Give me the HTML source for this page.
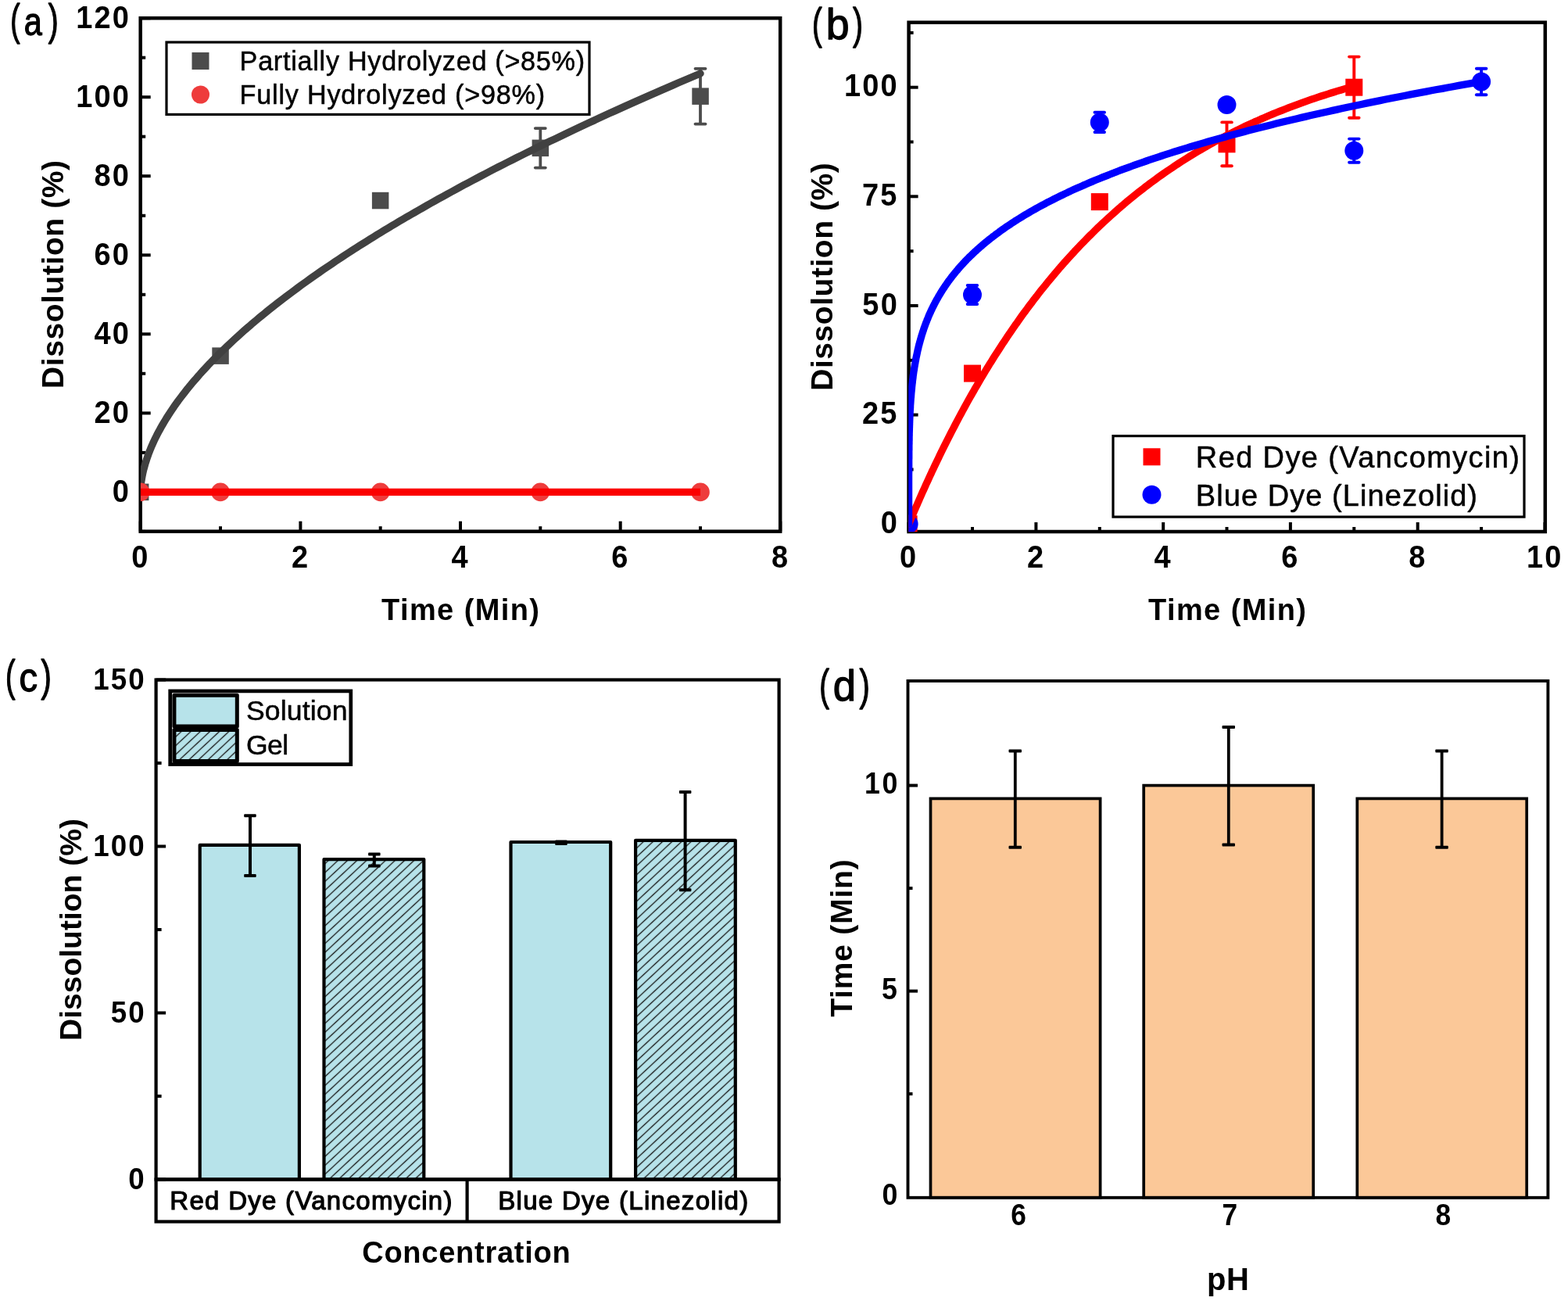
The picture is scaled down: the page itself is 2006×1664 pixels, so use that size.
<!DOCTYPE html>
<html lang="en">
<head>
<meta charset="utf-8">
<title>Dissolution profiles</title>
<style>
html,body{margin:0;padding:0;background:#ffffff;}
body{width:2006px;height:1664px;font-family:'Liberation Sans', Arial, Helvetica, sans-serif;}
svg{display:block;}
text{font-family:'Liberation Sans', Arial, Helvetica, sans-serif;}
</style>
</head>
<body>
<svg width="2006" height="1664" viewBox="0 0 2006 1664" font-family="'Liberation Sans', Arial, Helvetica, sans-serif" role="img" aria-label="Dissolution profiles: four-panel figure">
<rect width="2006" height="1664" fill="#ffffff"/>
<defs><pattern id="hatch" width="8.3" height="8.3" patternUnits="userSpaceOnUse" patternTransform="rotate(47)"><rect width="8.3" height="8.3" fill="#b7e3ea"/><line x1="4.15" y1="-1" x2="4.15" y2="9.3" stroke="#141414" stroke-width="1.3"/></pattern></defs>
<g id="panel-a">
<line x1="179.7" y1="679.7" x2="179.7" y2="666.7" stroke="#000" stroke-width="4"/>
<line x1="282.0" y1="679.7" x2="282.0" y2="673.2" stroke="#000" stroke-width="4"/>
<line x1="384.4" y1="679.7" x2="384.4" y2="666.7" stroke="#000" stroke-width="4"/>
<line x1="486.7" y1="679.7" x2="486.7" y2="673.2" stroke="#000" stroke-width="4"/>
<line x1="589.0" y1="679.7" x2="589.0" y2="666.7" stroke="#000" stroke-width="4"/>
<line x1="691.3" y1="679.7" x2="691.3" y2="673.2" stroke="#000" stroke-width="4"/>
<line x1="793.7" y1="679.7" x2="793.7" y2="666.7" stroke="#000" stroke-width="4"/>
<line x1="896.0" y1="679.7" x2="896.0" y2="673.2" stroke="#000" stroke-width="4"/>
<line x1="998.3" y1="679.7" x2="998.3" y2="666.7" stroke="#000" stroke-width="4"/>
<line x1="179.7" y1="679.9" x2="186.2" y2="679.9" stroke="#000" stroke-width="4"/>
<line x1="179.7" y1="629.4" x2="192.7" y2="629.4" stroke="#000" stroke-width="4"/>
<line x1="179.7" y1="578.9" x2="186.2" y2="578.9" stroke="#000" stroke-width="4"/>
<line x1="179.7" y1="528.4" x2="192.7" y2="528.4" stroke="#000" stroke-width="4"/>
<line x1="179.7" y1="477.8" x2="186.2" y2="477.8" stroke="#000" stroke-width="4"/>
<line x1="179.7" y1="427.3" x2="192.7" y2="427.3" stroke="#000" stroke-width="4"/>
<line x1="179.7" y1="376.8" x2="186.2" y2="376.8" stroke="#000" stroke-width="4"/>
<line x1="179.7" y1="326.3" x2="192.7" y2="326.3" stroke="#000" stroke-width="4"/>
<line x1="179.7" y1="275.8" x2="186.2" y2="275.8" stroke="#000" stroke-width="4"/>
<line x1="179.7" y1="225.2" x2="192.7" y2="225.2" stroke="#000" stroke-width="4"/>
<line x1="179.7" y1="174.7" x2="186.2" y2="174.7" stroke="#000" stroke-width="4"/>
<line x1="179.7" y1="124.2" x2="192.7" y2="124.2" stroke="#000" stroke-width="4"/>
<line x1="179.7" y1="73.7" x2="186.2" y2="73.7" stroke="#000" stroke-width="4"/>
<line x1="179.7" y1="23.2" x2="192.7" y2="23.2" stroke="#000" stroke-width="4"/>
<rect x="179.7" y="23.2" width="818.5" height="656.5" fill="none" stroke="#000" stroke-width="4.5"/>
<clipPath id="clipa"><rect x="179.9" y="23.2" width="818.5" height="656.5"/></clipPath>
<g clip-path="url(#clipa)">
<rect x="168.9" y="618.6" width="21.5" height="21.5" fill="#4c4c4c"/>
<rect x="271.3" y="444.4" width="21.5" height="21.5" fill="#4c4c4c"/>
<rect x="475.9" y="245.8" width="21.5" height="21.5" fill="#4c4c4c"/>
<line x1="691.3" y1="164.1" x2="691.3" y2="214.6" stroke="#4c4c4c" stroke-width="3.8"/>
<line x1="684.8" y1="164.1" x2="697.8" y2="164.1" stroke="#4c4c4c" stroke-width="3.8" stroke-linecap="round"/>
<line x1="684.8" y1="214.6" x2="697.8" y2="214.6" stroke="#4c4c4c" stroke-width="3.8" stroke-linecap="round"/>
<rect x="680.6" y="178.6" width="21.5" height="21.5" fill="#4c4c4c"/>
<line x1="896.0" y1="87.8" x2="896.0" y2="158.6" stroke="#4c4c4c" stroke-width="3.8"/>
<line x1="889.5" y1="87.8" x2="902.5" y2="87.8" stroke="#4c4c4c" stroke-width="3.8" stroke-linecap="round"/>
<line x1="889.5" y1="158.6" x2="902.5" y2="158.6" stroke="#4c4c4c" stroke-width="3.8" stroke-linecap="round"/>
<rect x="885.3" y="112.4" width="21.5" height="21.5" fill="#4c4c4c"/>
<path d="M179.7 629.4 L179.7 628.1 L179.8 626.5 L179.9 624.7 L180.0 623.0 L180.1 621.1 L180.3 619.2 L180.6 617.3 L180.8 615.3 L181.2 613.3 L181.5 611.3 L181.9 609.2 L182.3 607.1 L182.7 605.0 L183.2 602.9 L183.7 600.7 L184.3 598.6 L184.9 596.4 L185.5 594.2 L186.2 591.9 L186.9 589.7 L187.6 587.5 L188.4 585.2 L189.2 582.9 L190.0 580.6 L190.9 578.3 L191.8 576.0 L192.8 573.7 L193.7 571.3 L194.8 569.0 L195.8 566.6 L196.9 564.3 L198.0 561.9 L199.2 559.5 L200.4 557.1 L201.6 554.7 L202.9 552.3 L204.2 549.9 L205.6 547.4 L206.9 545.0 L208.4 542.5 L209.8 540.1 L211.3 537.6 L212.8 535.1 L214.4 532.6 L216.0 530.2 L217.6 527.7 L219.3 525.2 L221.0 522.7 L222.7 520.1 L224.5 517.6 L226.3 515.1 L228.1 512.5 L230.0 510.0 L231.9 507.5 L233.9 504.9 L235.9 502.3 L237.9 499.8 L239.9 497.2 L242.0 494.6 L244.2 492.0 L246.3 489.4 L248.5 486.9 L250.8 484.3 L253.1 481.6 L255.4 479.0 L257.7 476.4 L260.1 473.8 L262.5 471.2 L265.0 468.5 L267.4 465.9 L270.0 463.3 L272.5 460.6 L275.1 458.0 L277.8 455.3 L280.4 452.6 L283.1 450.0 L285.9 447.3 L288.7 444.6 L291.5 442.0 L294.3 439.3 L297.2 436.6 L300.1 433.9 L303.1 431.2 L306.1 428.5 L309.1 425.8 L312.1 423.1 L315.2 420.4 L318.4 417.7 L321.5 414.9 L324.8 412.2 L328.0 409.5 L331.3 406.7 L334.6 404.0 L337.9 401.3 L341.3 398.5 L344.7 395.8 L348.2 393.0 L351.7 390.3 L355.2 387.5 L358.8 384.7 L362.4 382.0 L366.0 379.2 L369.7 376.4 L373.4 373.7 L377.1 370.9 L380.9 368.1 L384.7 365.3 L388.6 362.5 L392.5 359.7 L396.4 356.9 L400.3 354.1 L404.3 351.3 L408.4 348.5 L412.4 345.7 L416.5 342.9 L420.7 340.1 L424.8 337.3 L429.0 334.4 L433.3 331.6 L437.6 328.8 L441.9 325.9 L446.2 323.1 L450.6 320.3 L455.0 317.4 L459.5 314.6 L464.0 311.7 L468.5 308.9 L473.1 306.0 L477.7 303.2 L482.3 300.3 L487.0 297.5 L491.7 294.6 L496.5 291.7 L501.3 288.8 L506.1 286.0 L510.9 283.1 L515.8 280.2 L520.7 277.3 L525.7 274.5 L530.7 271.6 L535.7 268.7 L540.8 265.8 L545.9 262.9 L551.0 260.0 L556.2 257.1 L561.4 254.2 L566.7 251.3 L572.0 248.4 L577.3 245.5 L582.6 242.6 L588.0 239.6 L593.4 236.7 L598.9 233.8 L604.4 230.9 L609.9 228.0 L615.5 225.0 L621.1 222.1 L626.7 219.2 L632.4 216.2 L638.1 213.3 L643.9 210.3 L649.7 207.4 L655.5 204.5 L661.3 201.5 L667.2 198.6 L673.2 195.6 L679.1 192.7 L685.1 189.7 L691.2 186.7 L697.2 183.8 L703.3 180.8 L709.5 177.9 L715.7 174.9 L721.9 171.9 L728.1 168.9 L734.4 166.0 L740.7 163.0 L747.1 160.0 L753.5 157.0 L759.9 154.1 L766.4 151.1 L772.9 148.1 L779.4 145.1 L786.0 142.1 L792.6 139.1 L799.2 136.1 L805.9 133.1 L812.6 130.1 L819.4 127.1 L826.2 124.1 L833.0 121.1 L839.9 118.1 L846.7 115.1 L853.7 112.1 L860.6 109.1 L867.6 106.0 L874.7 103.0 L881.8 100.0 L888.9 97.0 L896.0 94.0" fill="none" stroke="#414141" stroke-width="9.4" stroke-linecap="round" stroke-linejoin="round"/>
<circle cx="179.7" cy="629.4" r="11.8" fill="#ee3c3c"/>
<circle cx="282.0" cy="629.4" r="11.8" fill="#ee3c3c"/>
<circle cx="486.7" cy="629.4" r="11.8" fill="#ee3c3c"/>
<circle cx="691.3" cy="629.4" r="11.8" fill="#ee3c3c"/>
<circle cx="896.0" cy="629.4" r="11.8" fill="#ee3c3c"/>
<line x1="179.7" y1="629.4" x2="896.0" y2="629.4" stroke="#fb0000" stroke-width="9.3"/>
</g>
<text transform="matrix(0.95 0 0 1 168.35 726.00)" font-size="40" font-weight="bold">0</text>
<text transform="matrix(0.95 0 0 1 373.11 726.00)" font-size="40" font-weight="bold">2</text>
<text transform="matrix(0.95 0 0 1 577.49 726.00)" font-size="40" font-weight="bold">4</text>
<text transform="matrix(0.95 0 0 1 782.29 726.00)" font-size="40" font-weight="bold">6</text>
<text transform="matrix(0.95 0 0 1 986.95 726.00)" font-size="40" font-weight="bold">8</text>
<text transform="matrix(0.95 0 0 1 143.83 641.80)" font-size="40" font-weight="bold">0</text>
<text transform="matrix(0.95 0 0 1 120.56 540.76)" font-size="40" font-weight="bold" letter-spacing="2.3">20</text>
<text transform="matrix(0.95 0 0 1 120.56 439.72)" font-size="40" font-weight="bold" letter-spacing="2.3">40</text>
<text transform="matrix(0.95 0 0 1 120.56 338.68)" font-size="40" font-weight="bold" letter-spacing="2.3">60</text>
<text transform="matrix(0.95 0 0 1 120.56 237.64)" font-size="40" font-weight="bold" letter-spacing="2.3">80</text>
<text transform="matrix(0.95 0 0 1 97.19 136.60)" font-size="40" font-weight="bold" letter-spacing="2.3">100</text>
<text transform="matrix(0.95 0 0 1 97.19 35.56)" font-size="40" font-weight="bold" letter-spacing="2.3">120</text>
<text x="488.0" y="792.5" font-size="38" font-weight="bold" textLength="202.0" lengthAdjust="spacing">Time (Min)</text>
<text x="80.8" y="497.0" font-size="39" font-weight="bold" textLength="292.0" lengthAdjust="spacing" transform="rotate(-90 80.8 497.0)">Dissolution (%)</text>
<text class="plabel" stroke="#000" stroke-width="1.3" stroke-linejoin="round"><tspan x="13.14" y="44.41" font-size="55.12" textLength="12.31" lengthAdjust="spacingAndGlyphs">(</tspan><tspan x="30.69" y="45.44" font-size="50.78" textLength="23.01" lengthAdjust="spacingAndGlyphs">a</tspan><tspan x="61.76" y="44.41" font-size="55.12" textLength="12.94" lengthAdjust="spacingAndGlyphs">)</tspan></text>
<rect x="213.0" y="54.0" width="541.0" height="92.4" fill="#fff" stroke="#000" stroke-width="3.2"/>
<rect x="245.5" y="67.0" width="22.0" height="22.0" fill="#4c4c4c"/>
<circle cx="256.5" cy="121.0" r="11.5" fill="#ee3c3c"/>
<text x="306.6" y="90.2" font-size="34.2" textLength="441.5" lengthAdjust="spacing" stroke="#000" stroke-width="0.5" stroke-linejoin="round">Partially Hydrolyzed (&gt;85%)</text>
<text x="306.6" y="133.4" font-size="34.2" textLength="390.5" lengthAdjust="spacing" stroke="#000" stroke-width="0.5" stroke-linejoin="round">Fully Hydrolyzed (&gt;98%)</text>
</g>
<g id="panel-b">
<clipPath id="clipb"><rect x="1162.3" y="28.7" width="814.5" height="651.6"/></clipPath>
<line x1="1162.6" y1="680.0" x2="1162.6" y2="668.0" stroke="#000" stroke-width="4"/>
<line x1="1244.0" y1="680.0" x2="1244.0" y2="674.0" stroke="#000" stroke-width="4"/>
<line x1="1325.4" y1="680.0" x2="1325.4" y2="668.0" stroke="#000" stroke-width="4"/>
<line x1="1406.8" y1="680.0" x2="1406.8" y2="674.0" stroke="#000" stroke-width="4"/>
<line x1="1488.2" y1="680.0" x2="1488.2" y2="668.0" stroke="#000" stroke-width="4"/>
<line x1="1569.5" y1="680.0" x2="1569.5" y2="674.0" stroke="#000" stroke-width="4"/>
<line x1="1650.9" y1="680.0" x2="1650.9" y2="668.0" stroke="#000" stroke-width="4"/>
<line x1="1732.3" y1="680.0" x2="1732.3" y2="674.0" stroke="#000" stroke-width="4"/>
<line x1="1813.7" y1="680.0" x2="1813.7" y2="668.0" stroke="#000" stroke-width="4"/>
<line x1="1895.1" y1="680.0" x2="1895.1" y2="674.0" stroke="#000" stroke-width="4"/>
<line x1="1976.5" y1="680.0" x2="1976.5" y2="668.0" stroke="#000" stroke-width="4"/>
<line x1="1162.6" y1="600.5" x2="1168.6" y2="600.5" stroke="#000" stroke-width="4"/>
<line x1="1162.6" y1="530.6" x2="1174.6" y2="530.6" stroke="#000" stroke-width="4"/>
<line x1="1162.6" y1="460.8" x2="1168.6" y2="460.8" stroke="#000" stroke-width="4"/>
<line x1="1162.6" y1="391.0" x2="1174.6" y2="391.0" stroke="#000" stroke-width="4"/>
<line x1="1162.6" y1="321.2" x2="1168.6" y2="321.2" stroke="#000" stroke-width="4"/>
<line x1="1162.6" y1="251.3" x2="1174.6" y2="251.3" stroke="#000" stroke-width="4"/>
<line x1="1162.6" y1="181.5" x2="1168.6" y2="181.5" stroke="#000" stroke-width="4"/>
<line x1="1162.6" y1="111.7" x2="1174.6" y2="111.7" stroke="#000" stroke-width="4"/>
<line x1="1162.6" y1="41.9" x2="1168.6" y2="41.9" stroke="#000" stroke-width="4"/>
<rect x="1162.6" y="28.7" width="814.2" height="651.3" fill="none" stroke="#000" stroke-width="4.5"/>
<g clip-path="url(#clipb)">
<rect x="1151.6" y="659.3" width="22.0" height="22.0" fill="#ff0000"/>
<rect x="1233.0" y="466.6" width="22.0" height="22.0" fill="#ff0000"/>
<rect x="1395.8" y="247.1" width="22.0" height="22.0" fill="#ff0000"/>
<line x1="1569.5" y1="156.4" x2="1569.5" y2="212.2" stroke="#ff0000" stroke-width="3.9"/>
<line x1="1563.3" y1="156.4" x2="1575.8" y2="156.4" stroke="#ff0000" stroke-width="3.9" stroke-linecap="round"/>
<line x1="1563.3" y1="212.2" x2="1575.8" y2="212.2" stroke="#ff0000" stroke-width="3.9" stroke-linecap="round"/>
<rect x="1558.5" y="173.3" width="22.0" height="22.0" fill="#ff0000"/>
<line x1="1732.3" y1="72.6" x2="1732.3" y2="150.8" stroke="#ff0000" stroke-width="3.9"/>
<line x1="1726.1" y1="72.6" x2="1738.6" y2="72.6" stroke="#ff0000" stroke-width="3.9" stroke-linecap="round"/>
<line x1="1726.1" y1="150.8" x2="1738.6" y2="150.8" stroke="#ff0000" stroke-width="3.9" stroke-linecap="round"/>
<rect x="1721.3" y="100.7" width="22.0" height="22.0" fill="#ff0000"/>
<circle cx="1162.6" cy="670.3" r="12" fill="#0000ff"/>
<line x1="1244.0" y1="365.0" x2="1244.0" y2="389.0" stroke="#0000ff" stroke-width="3.9"/>
<line x1="1237.7" y1="365.0" x2="1250.2" y2="365.0" stroke="#0000ff" stroke-width="3.9" stroke-linecap="round"/>
<line x1="1237.7" y1="389.0" x2="1250.2" y2="389.0" stroke="#0000ff" stroke-width="3.9" stroke-linecap="round"/>
<circle cx="1244.0" cy="377.0" r="12" fill="#0000ff"/>
<line x1="1406.8" y1="143.8" x2="1406.8" y2="169.0" stroke="#0000ff" stroke-width="3.9"/>
<line x1="1400.5" y1="143.8" x2="1413.0" y2="143.8" stroke="#0000ff" stroke-width="3.9" stroke-linecap="round"/>
<line x1="1400.5" y1="169.0" x2="1413.0" y2="169.0" stroke="#0000ff" stroke-width="3.9" stroke-linecap="round"/>
<circle cx="1406.8" cy="156.4" r="12" fill="#0000ff"/>
<line x1="1569.5" y1="128.5" x2="1569.5" y2="139.6" stroke="#0000ff" stroke-width="3.9"/>
<line x1="1563.3" y1="128.5" x2="1575.8" y2="128.5" stroke="#0000ff" stroke-width="3.9" stroke-linecap="round"/>
<line x1="1563.3" y1="139.6" x2="1575.8" y2="139.6" stroke="#0000ff" stroke-width="3.9" stroke-linecap="round"/>
<circle cx="1569.5" cy="134.0" r="12" fill="#0000ff"/>
<line x1="1732.3" y1="177.6" x2="1732.3" y2="207.8" stroke="#0000ff" stroke-width="3.9"/>
<line x1="1726.1" y1="177.6" x2="1738.6" y2="177.6" stroke="#0000ff" stroke-width="3.9" stroke-linecap="round"/>
<line x1="1726.1" y1="207.8" x2="1738.6" y2="207.8" stroke="#0000ff" stroke-width="3.9" stroke-linecap="round"/>
<circle cx="1732.3" cy="192.7" r="12" fill="#0000ff"/>
<line x1="1895.1" y1="87.7" x2="1895.1" y2="121.2" stroke="#0000ff" stroke-width="3.9"/>
<line x1="1888.9" y1="87.7" x2="1901.4" y2="87.7" stroke="#0000ff" stroke-width="3.9" stroke-linecap="round"/>
<line x1="1888.9" y1="121.2" x2="1901.4" y2="121.2" stroke="#0000ff" stroke-width="3.9" stroke-linecap="round"/>
<circle cx="1895.1" cy="104.4" r="12" fill="#0000ff"/>
<path d="M1162.6 670.3 L1162.8 669.8 L1163.2 668.9 L1163.6 667.8 L1164.2 666.5 L1164.9 664.9 L1165.6 663.3 L1166.3 661.5 L1167.2 659.5 L1168.0 657.5 L1169.0 655.3 L1169.9 653.0 L1171.0 650.6 L1172.0 648.2 L1173.2 645.6 L1174.3 643.0 L1175.5 640.3 L1176.7 637.5 L1178.0 634.6 L1179.3 631.7 L1180.6 628.7 L1182.0 625.7 L1183.4 622.6 L1184.8 619.4 L1186.3 616.2 L1187.8 613.0 L1189.3 609.7 L1190.9 606.3 L1192.4 602.9 L1194.1 599.5 L1195.7 596.1 L1197.4 592.5 L1199.1 589.0 L1200.8 585.4 L1202.5 581.8 L1204.3 578.2 L1206.1 574.5 L1207.9 570.9 L1209.8 567.1 L1211.7 563.4 L1213.6 559.7 L1215.5 555.9 L1217.4 552.1 L1219.4 548.3 L1221.4 544.5 L1223.4 540.6 L1225.4 536.8 L1227.5 532.9 L1229.6 529.0 L1231.7 525.1 L1233.8 521.2 L1236.0 517.3 L1238.1 513.4 L1240.3 509.5 L1242.5 505.6 L1244.8 501.7 L1247.0 497.7 L1249.3 493.8 L1251.6 489.9 L1253.9 486.0 L1256.2 482.0 L1258.6 478.1 L1260.9 474.2 L1263.3 470.3 L1265.7 466.3 L1268.2 462.4 L1270.6 458.5 L1273.1 454.6 L1275.6 450.7 L1278.1 446.9 L1280.6 443.0 L1283.1 439.1 L1285.7 435.3 L1288.2 431.4 L1290.8 427.6 L1293.4 423.8 L1296.1 419.9 L1298.7 416.1 L1301.4 412.4 L1304.0 408.6 L1306.7 404.8 L1309.4 401.1 L1312.2 397.4 L1314.9 393.6 L1317.7 389.9 L1320.5 386.3 L1323.2 382.6 L1326.1 379.0 L1328.9 375.3 L1331.7 371.7 L1334.6 368.1 L1337.5 364.6 L1340.3 361.0 L1343.3 357.5 L1346.2 354.0 L1349.1 350.5 L1352.1 347.0 L1355.0 343.5 L1358.0 340.1 L1361.0 336.7 L1364.0 333.3 L1367.1 329.9 L1370.1 326.6 L1373.2 323.3 L1376.2 319.9 L1379.3 316.7 L1382.4 313.4 L1385.5 310.2 L1388.7 307.0 L1391.8 303.8 L1395.0 300.6 L1398.2 297.5 L1401.4 294.3 L1404.6 291.2 L1407.8 288.2 L1411.0 285.1 L1414.3 282.1 L1417.5 279.1 L1420.8 276.1 L1424.1 273.2 L1427.4 270.2 L1430.7 267.3 L1434.0 264.4 L1437.4 261.6 L1440.7 258.7 L1444.1 255.9 L1447.5 253.2 L1450.9 250.4 L1454.3 247.7 L1457.7 244.9 L1461.2 242.3 L1464.6 239.6 L1468.1 237.0 L1471.6 234.3 L1475.1 231.8 L1478.6 229.2 L1482.1 226.6 L1485.6 224.1 L1489.1 221.6 L1492.7 219.2 L1496.3 216.7 L1499.9 214.3 L1503.4 211.9 L1507.1 209.5 L1510.7 207.2 L1514.3 204.9 L1517.9 202.6 L1521.6 200.3 L1525.3 198.0 L1529.0 195.8 L1532.7 193.6 L1536.4 191.4 L1540.1 189.2 L1543.8 187.1 L1547.6 185.0 L1551.3 182.9 L1555.1 180.8 L1558.9 178.8 L1562.6 176.8 L1566.4 174.7 L1570.3 172.8 L1574.1 170.8 L1577.9 168.9 L1581.8 167.0 L1585.6 165.1 L1589.5 163.2 L1593.4 161.3 L1597.3 159.5 L1601.2 157.7 L1605.1 155.9 L1609.1 154.2 L1613.0 152.4 L1617.0 150.7 L1620.9 149.0 L1624.9 147.3 L1628.9 145.6 L1632.9 144.0 L1636.9 142.4 L1641.0 140.8 L1645.0 139.2 L1649.0 137.6 L1653.1 136.1 L1657.2 134.6 L1661.3 133.1 L1665.3 131.6 L1669.5 130.1 L1673.6 128.7 L1677.7 127.2 L1681.8 125.8 L1686.0 124.4 L1690.1 123.0 L1694.3 121.7 L1698.5 120.4 L1702.7 119.0 L1706.9 117.7 L1711.1 116.4 L1715.3 115.2 L1719.6 113.9 L1723.8 112.7 L1728.1 111.4 L1732.3 110.2" fill="none" stroke="#ff0000" stroke-width="9.3" stroke-linecap="round" stroke-linejoin="round"/>
<path d="M1162.6 670.3 L1162.6 667.7 L1162.6 665.5 L1162.6 663.4 L1162.6 661.3 L1162.6 659.3 L1162.6 657.4 L1162.6 655.5 L1162.6 653.6 L1162.6 651.7 L1162.6 649.8 L1162.6 648.0 L1162.6 646.2 L1162.6 644.4 L1162.6 642.6 L1162.6 640.8 L1162.6 639.1 L1162.6 637.3 L1162.6 635.6 L1162.6 633.8 L1162.6 632.1 L1162.6 630.4 L1162.6 628.7 L1162.6 627.0 L1162.6 625.3 L1162.6 623.6 L1162.6 621.9 L1162.6 620.3 L1162.6 618.6 L1162.6 617.0 L1162.6 615.3 L1162.6 613.7 L1162.6 612.0 L1162.6 610.4 L1162.6 608.7 L1162.6 607.1 L1162.6 605.5 L1162.7 603.9 L1162.7 602.3 L1162.7 600.7 L1162.7 599.0 L1162.7 597.4 L1162.7 595.9 L1162.7 594.3 L1162.7 592.7 L1162.7 591.1 L1162.7 589.5 L1162.7 587.9 L1162.8 586.3 L1162.8 584.8 L1162.8 583.2 L1162.8 581.6 L1162.8 580.1 L1162.8 578.5 L1162.8 577.0 L1162.9 575.4 L1162.9 573.8 L1162.9 572.3 L1162.9 570.8 L1162.9 569.2 L1163.0 567.7 L1163.0 566.1 L1163.0 564.6 L1163.1 563.1 L1163.1 561.5 L1163.1 560.0 L1163.1 558.5 L1163.2 557.0 L1163.2 555.4 L1163.2 553.9 L1163.3 552.4 L1163.3 550.9 L1163.4 549.4 L1163.4 547.9 L1163.5 546.3 L1163.5 544.8 L1163.6 543.3 L1163.6 541.8 L1163.7 540.3 L1163.7 538.8 L1163.8 537.3 L1163.8 535.8 L1163.9 534.4 L1164.0 532.9 L1164.0 531.4 L1164.1 529.9 L1164.2 528.4 L1164.2 526.9 L1164.3 525.4 L1164.4 524.0 L1164.5 522.5 L1164.6 521.0 L1164.6 519.5 L1164.7 518.0 L1164.8 516.6 L1164.9 515.1 L1165.0 513.6 L1165.1 512.2 L1165.2 510.7 L1165.3 509.2 L1165.5 507.8 L1165.6 506.3 L1165.7 504.8 L1165.8 503.4 L1165.9 501.9 L1166.1 500.5 L1166.2 499.0 L1166.4 497.6 L1166.5 496.1 L1166.6 494.7 L1166.8 493.2 L1166.9 491.8 L1167.1 490.3 L1167.3 488.9 L1167.4 487.4 L1167.6 486.0 L1167.8 484.5 L1168.0 483.1 L1168.1 481.7 L1168.3 480.2 L1168.5 478.8 L1168.7 477.3 L1168.9 475.9 L1169.1 474.5 L1169.4 473.0 L1169.6 471.6 L1169.8 470.2 L1170.0 468.8 L1170.3 467.3 L1170.5 465.9 L1170.8 464.5 L1171.0 463.1 L1171.3 461.6 L1171.6 460.2 L1171.8 458.8 L1172.1 457.4 L1172.4 455.9 L1172.7 454.5 L1173.0 453.1 L1173.3 451.7 L1173.6 450.3 L1173.9 448.9 L1174.2 447.5 L1174.6 446.0 L1174.9 444.6 L1175.2 443.2 L1175.6 441.8 L1176.0 440.4 L1176.3 439.0 L1176.7 437.6 L1177.1 436.2 L1177.5 434.8 L1177.9 433.4 L1178.3 432.0 L1178.7 430.6 L1179.1 429.2 L1179.5 427.8 L1180.0 426.4 L1180.4 425.0 L1180.9 423.6 L1181.4 422.2 L1181.8 420.8 L1182.3 419.4 L1182.8 418.0 L1183.3 416.6 L1183.8 415.2 L1184.3 413.8 L1184.9 412.4 L1185.4 411.1 L1185.9 409.7 L1186.5 408.3 L1187.1 406.9 L1187.6 405.5 L1188.2 404.1 L1188.8 402.7 L1189.4 401.3 L1190.1 400.0 L1190.7 398.6 L1191.3 397.2 L1192.0 395.8 L1192.6 394.4 L1193.3 393.1 L1194.0 391.7 L1194.7 390.3 L1195.4 388.9 L1196.1 387.6 L1196.8 386.2 L1197.6 384.8 L1198.3 383.4 L1199.1 382.1 L1199.9 380.7 L1200.7 379.3 L1201.5 377.9 L1202.3 376.6 L1203.1 375.2 L1204.0 373.8 L1204.8 372.5 L1205.7 371.1 L1206.6 369.7 L1207.5 368.4 L1208.4 367.0 L1209.3 365.6 L1210.2 364.3 L1211.2 362.9 L1212.2 361.5 L1213.1 360.2 L1214.1 358.8 L1215.1 357.5 L1216.2 356.1 L1217.2 354.7 L1218.2 353.4 L1219.3 352.0 L1220.4 350.7 L1221.5 349.3 L1222.6 348.0 L1223.7 346.6 L1224.9 345.3 L1226.0 343.9 L1227.2 342.5 L1228.4 341.2 L1229.6 339.8 L1230.9 338.5 L1232.1 337.1 L1233.4 335.8 L1234.6 334.4 L1235.9 333.1 L1237.2 331.7 L1238.6 330.4 L1239.9 329.0 L1241.3 327.7 L1242.7 326.4 L1244.1 325.0 L1245.5 323.7 L1246.9 322.3 L1248.4 321.0 L1249.9 319.6 L1251.4 318.3 L1252.9 316.9 L1254.4 315.6 L1256.0 314.3 L1257.5 312.9 L1259.1 311.6 L1260.7 310.2 L1262.4 308.9 L1264.0 307.6 L1265.7 306.2 L1267.4 304.9 L1269.1 303.6 L1270.8 302.2 L1272.6 300.9 L1274.4 299.5 L1276.2 298.2 L1278.0 296.9 L1279.8 295.5 L1281.7 294.2 L1283.6 292.9 L1285.5 291.5 L1287.4 290.2 L1289.4 288.9 L1291.4 287.6 L1293.4 286.2 L1295.4 284.9 L1297.4 283.6 L1299.5 282.2 L1301.6 280.9 L1303.7 279.6 L1305.9 278.3 L1308.0 276.9 L1310.2 275.6 L1312.4 274.3 L1314.7 273.0 L1316.9 271.6 L1319.2 270.3 L1321.5 269.0 L1323.9 267.7 L1326.2 266.3 L1328.6 265.0 L1331.1 263.7 L1333.5 262.4 L1336.0 261.1 L1338.5 259.7 L1341.0 258.4 L1343.6 257.1 L1346.1 255.8 L1348.7 254.5 L1351.4 253.1 L1354.0 251.8 L1356.7 250.5 L1359.5 249.2 L1362.2 247.9 L1365.0 246.6 L1367.8 245.2 L1370.6 243.9 L1373.5 242.6 L1376.4 241.3 L1379.3 240.0 L1382.3 238.7 L1385.2 237.4 L1388.3 236.1 L1391.3 234.7 L1394.4 233.4 L1397.5 232.1 L1400.6 230.8 L1403.8 229.5 L1407.0 228.2 L1410.2 226.9 L1413.5 225.6 L1416.8 224.3 L1420.1 223.0 L1423.5 221.7 L1426.9 220.3 L1430.3 219.0 L1433.7 217.7 L1437.2 216.4 L1440.8 215.1 L1444.3 213.8 L1447.9 212.5 L1451.5 211.2 L1455.2 209.9 L1458.9 208.6 L1462.6 207.3 L1466.4 206.0 L1470.2 204.7 L1474.0 203.4 L1477.9 202.1 L1481.8 200.8 L1485.8 199.5 L1489.8 198.2 L1493.8 196.9 L1497.8 195.6 L1501.9 194.3 L1506.1 193.0 L1510.2 191.7 L1514.4 190.4 L1518.7 189.1 L1523.0 187.8 L1527.3 186.5 L1531.7 185.2 L1536.1 183.9 L1540.5 182.6 L1545.0 181.3 L1549.5 180.0 L1554.1 178.8 L1558.7 177.5 L1563.3 176.2 L1568.0 174.9 L1572.7 173.6 L1577.5 172.3 L1582.3 171.0 L1587.1 169.7 L1592.0 168.4 L1596.9 167.1 L1601.9 165.8 L1606.9 164.5 L1612.0 163.3 L1617.1 162.0 L1622.2 160.7 L1627.4 159.4 L1632.6 158.1 L1637.9 156.8 L1643.2 155.5 L1648.6 154.2 L1654.0 153.0 L1659.4 151.7 L1664.9 150.4 L1670.5 149.1 L1676.0 147.8 L1681.7 146.5 L1687.4 145.2 L1693.1 144.0 L1698.9 142.7 L1704.7 141.4 L1710.6 140.1 L1716.5 138.8 L1722.4 137.5 L1728.4 136.3 L1734.5 135.0 L1740.6 133.7 L1746.8 132.4 L1753.0 131.1 L1759.2 129.9 L1765.5 128.6 L1771.9 127.3 L1778.3 126.0 L1784.8 124.7 L1791.3 123.5 L1797.8 122.2 L1804.4 120.9 L1811.1 119.6 L1817.8 118.4 L1824.6 117.1 L1831.4 115.8 L1838.2 114.5 L1845.2 113.3 L1852.1 112.0 L1859.2 110.7 L1866.2 109.4 L1873.4 108.2 L1880.6 106.9 L1887.8 105.6 L1895.1 104.3" fill="none" stroke="#0000ff" stroke-width="9.3" stroke-linecap="round" stroke-linejoin="round"/>
</g>
<text transform="matrix(0.95 0 0 1 1151.05 726.00)" font-size="40" font-weight="bold">0</text>
<text transform="matrix(0.95 0 0 1 1313.93 726.00)" font-size="40" font-weight="bold">2</text>
<text transform="matrix(0.95 0 0 1 1476.42 726.00)" font-size="40" font-weight="bold">4</text>
<text transform="matrix(0.95 0 0 1 1639.35 726.00)" font-size="40" font-weight="bold">6</text>
<text transform="matrix(0.95 0 0 1 1802.13 726.00)" font-size="40" font-weight="bold">8</text>
<text transform="matrix(0.95 0 0 1 1952.89 726.00)" font-size="40" font-weight="bold" letter-spacing="2.3">10</text>
<text transform="matrix(0.95 0 0 1 1126.63 681.90)" font-size="40" font-weight="bold">0</text>
<text transform="matrix(0.95 0 0 1 1102.88 542.25)" font-size="40" font-weight="bold" letter-spacing="2.3">25</text>
<text transform="matrix(0.95 0 0 1 1103.36 402.60)" font-size="40" font-weight="bold" letter-spacing="2.3">50</text>
<text transform="matrix(0.95 0 0 1 1102.88 262.95)" font-size="40" font-weight="bold" letter-spacing="2.3">75</text>
<text transform="matrix(0.95 0 0 1 1079.99 123.30)" font-size="40" font-weight="bold" letter-spacing="2.3">100</text>
<text x="1469.0" y="793.0" font-size="38" font-weight="bold" textLength="202.0" lengthAdjust="spacing">Time (Min)</text>
<text x="1064.9" y="499.8" font-size="39" font-weight="bold" textLength="291.5" lengthAdjust="spacing" transform="rotate(-90 1064.9 499.8)">Dissolution (%)</text>
<text class="plabel" stroke="#000" stroke-width="1.3" stroke-linejoin="round"><tspan x="1039.07" y="49.00" font-size="54.69" textLength="12.69" lengthAdjust="spacingAndGlyphs">(</tspan><tspan x="1056.77" y="50.10" font-size="54.69" textLength="29.79" lengthAdjust="spacingAndGlyphs">b</tspan><tspan x="1091.06" y="49.00" font-size="54.69" textLength="12.94" lengthAdjust="spacingAndGlyphs">)</tspan></text>
<rect x="1424.0" y="557.6" width="526.0" height="103.5" fill="#fff" stroke="#000" stroke-width="3.2"/>
<rect x="1462.5" y="573.3" width="22.0" height="22.0" fill="#ff0000"/>
<circle cx="1473.5" cy="632.7" r="12" fill="#0000ff"/>
<text x="1529.8" y="598.3" font-size="38" textLength="414.2" lengthAdjust="spacing" stroke="#000" stroke-width="0.5" stroke-linejoin="round">Red Dye (Vancomycin)</text>
<text x="1529.8" y="646.9" font-size="38" textLength="360.2" lengthAdjust="spacing" stroke="#000" stroke-width="0.5" stroke-linejoin="round">Blue Dye (Linezolid)</text>
</g>
<g id="panel-c">
<path d="M255.7 1508.5 V1080.8 H382.9 V1508.5" fill="#b7e3ea" stroke="#000" stroke-width="4.2" stroke-linejoin="round"/>
<line x1="320.0" y1="1043.3" x2="320.0" y2="1119.9" stroke="#000" stroke-width="4.0"/>
<rect x="312.2" y="1041.3" width="15.5" height="4.0" rx="1" fill="#000"/>
<rect x="312.2" y="1117.9" width="15.5" height="4.0" rx="1" fill="#000"/>
<path d="M414.5 1508.5 V1099.1 H542.3 V1508.5" fill="url(#hatch)" stroke="#000" stroke-width="4.2" stroke-linejoin="round"/>
<line x1="478.8" y1="1092.5" x2="478.8" y2="1107.4" stroke="#000" stroke-width="4.0"/>
<rect x="471.1" y="1090.5" width="15.5" height="4.0" rx="1" fill="#000"/>
<rect x="471.1" y="1105.4" width="15.5" height="4.0" rx="1" fill="#000"/>
<path d="M653.5 1508.5 V1077.0 H781.2 V1508.5" fill="#b7e3ea" stroke="#000" stroke-width="4.2" stroke-linejoin="round"/>
<line x1="718.0" y1="1076.5" x2="718.0" y2="1079.0" stroke="#000" stroke-width="4.0"/>
<rect x="710.2" y="1074.5" width="15.5" height="4.0" rx="1" fill="#000"/>
<rect x="710.2" y="1077.0" width="15.5" height="4.0" rx="1" fill="#000"/>
<path d="M813.1 1508.5 V1074.8 H940.8 V1508.5" fill="url(#hatch)" stroke="#000" stroke-width="4.2" stroke-linejoin="round"/>
<line x1="876.6" y1="1013.0" x2="876.6" y2="1138.3" stroke="#000" stroke-width="4.0"/>
<rect x="868.9" y="1011.0" width="15.5" height="4.0" rx="1" fill="#000"/>
<rect x="868.9" y="1136.3" width="15.5" height="4.0" rx="1" fill="#000"/>
<line x1="199.6" y1="1508.5" x2="212.1" y2="1508.5" stroke="#000" stroke-width="4"/>
<line x1="199.6" y1="1402.0" x2="206.6" y2="1402.0" stroke="#000" stroke-width="4"/>
<line x1="199.6" y1="1295.5" x2="212.1" y2="1295.5" stroke="#000" stroke-width="4"/>
<line x1="199.6" y1="1189.0" x2="206.6" y2="1189.0" stroke="#000" stroke-width="4"/>
<line x1="199.6" y1="1082.5" x2="212.1" y2="1082.5" stroke="#000" stroke-width="4"/>
<line x1="199.6" y1="976.0" x2="206.6" y2="976.0" stroke="#000" stroke-width="4"/>
<line x1="199.6" y1="869.5" x2="212.1" y2="869.5" stroke="#000" stroke-width="4"/>
<rect x="199.6" y="869.5" width="797.0" height="639.0" fill="none" stroke="#000" stroke-width="4.2"/>
<rect x="199.6" y="1508.5" width="797.0" height="54.0" fill="none" stroke="#000" stroke-width="4.2"/>
<line x1="597.6" y1="1508.5" x2="597.6" y2="1562.5" stroke="#000" stroke-width="4.2"/>
<text transform="matrix(0.93 0 0 1 164.28 1520.50)" font-size="39.5" font-weight="bold">0</text>
<text transform="matrix(0.93 0 0 1 141.85 1307.50)" font-size="39.5" font-weight="bold" letter-spacing="2.2">50</text>
<text transform="matrix(0.93 0 0 1 119.32 1094.50)" font-size="39.5" font-weight="bold" letter-spacing="2.2">100</text>
<text transform="matrix(0.93 0 0 1 119.32 881.50)" font-size="39.5" font-weight="bold" letter-spacing="2.2">150</text>
<text x="217.3" y="1547.2" font-size="33" textLength="361.2" lengthAdjust="spacing" stroke="#000" stroke-width="1.2" stroke-linejoin="round">Red Dye (Vancomycin)</text>
<text x="637.2" y="1547.2" font-size="33" textLength="320.0" lengthAdjust="spacing" stroke="#000" stroke-width="1.2" stroke-linejoin="round">Blue Dye (Linezolid)</text>
<text x="463.2" y="1614.6" font-size="38" font-weight="bold" textLength="266.5" lengthAdjust="spacing">Concentration</text>
<text x="104.3" y="1331.0" font-size="39" font-weight="bold" textLength="284.0" lengthAdjust="spacing" transform="rotate(-90 104.3 1331.0)">Dissolution (%)</text>
<text class="plabel" stroke="#000" stroke-width="1.3" stroke-linejoin="round"><tspan x="7.09" y="883.22" font-size="54.58" textLength="12.56" lengthAdjust="spacingAndGlyphs">(</tspan><tspan x="24.44" y="884.24" font-size="50.96" textLength="23.60" lengthAdjust="spacingAndGlyphs">c</tspan><tspan x="52.45" y="883.22" font-size="54.58" textLength="13.32" lengthAdjust="spacingAndGlyphs">)</tspan></text>
<rect x="217.7" y="883.9" width="231.1" height="93.7" fill="#fff" stroke="#000" stroke-width="4.7"/>
<rect x="222.9" y="889.2" width="80.4" height="39.8" fill="#b7e3ea" stroke="#000" stroke-width="5.0" stroke-linejoin="round"/>
<rect x="222.9" y="933.4" width="80.4" height="40.1" fill="url(#hatch)" stroke="#000" stroke-width="5.0" stroke-linejoin="round"/>
<text x="315.0" y="920.6" font-size="35.6" textLength="129.5" lengthAdjust="spacing" stroke="#000" stroke-width="0.5" stroke-linejoin="round">Solution</text>
<text x="315.0" y="965.3" font-size="35.6" textLength="54.2" lengthAdjust="spacing" stroke="#000" stroke-width="0.5" stroke-linejoin="round">Gel</text>
</g>
<g id="panel-d">
<rect x="1190.5" y="1021.4" width="217.1" height="510.4" fill="#fbc898" stroke="#000" stroke-width="3.7"/>
<line x1="1298.8" y1="960.6" x2="1298.8" y2="1083.7" stroke="#000" stroke-width="3.8"/>
<rect x="1290.5" y="958.6" width="16.5" height="4.0" rx="1" fill="#000"/>
<rect x="1290.5" y="1081.7" width="16.5" height="4.0" rx="1" fill="#000"/>
<text transform="matrix(0.93 0 0 1 1293.35 1566.90)" font-size="38" font-weight="bold">6</text>
<rect x="1463.2" y="1004.6" width="217.0" height="527.2" fill="#fbc898" stroke="#000" stroke-width="3.7"/>
<line x1="1571.8" y1="930.1" x2="1571.8" y2="1080.5" stroke="#000" stroke-width="3.8"/>
<rect x="1563.5" y="928.1" width="16.5" height="4.0" rx="1" fill="#000"/>
<rect x="1563.5" y="1078.5" width="16.5" height="4.0" rx="1" fill="#000"/>
<text transform="matrix(0.93 0 0 1 1563.59 1566.90)" font-size="38" font-weight="bold">7</text>
<rect x="1736.3" y="1021.4" width="216.9" height="510.4" fill="#fbc898" stroke="#000" stroke-width="3.7"/>
<line x1="1844.6" y1="960.6" x2="1844.6" y2="1083.7" stroke="#000" stroke-width="3.8"/>
<rect x="1836.3" y="958.6" width="16.5" height="4.0" rx="1" fill="#000"/>
<rect x="1836.3" y="1081.7" width="16.5" height="4.0" rx="1" fill="#000"/>
<text transform="matrix(0.93 0 0 1 1836.55 1566.90)" font-size="38" font-weight="bold">8</text>
<line x1="1161.5" y1="1399.1" x2="1167.5" y2="1399.1" stroke="#000" stroke-width="4"/>
<line x1="1161.5" y1="1267.6" x2="1174.0" y2="1267.6" stroke="#000" stroke-width="4"/>
<line x1="1161.5" y1="1136.1" x2="1167.5" y2="1136.1" stroke="#000" stroke-width="4"/>
<line x1="1161.5" y1="1004.6" x2="1174.0" y2="1004.6" stroke="#000" stroke-width="4"/>
<rect x="1161.5" y="870.9" width="818.9" height="660.9" fill="none" stroke="#000" stroke-width="3.9"/>
<text transform="matrix(0.93 0 0 1 1128.56 1541.20)" font-size="38.5" font-weight="bold">0</text>
<text transform="matrix(0.93 0 0 1 1128.11 1278.20)" font-size="38.5" font-weight="bold">5</text>
<text transform="matrix(0.93 0 0 1 1105.90 1015.20)" font-size="38.5" font-weight="bold" letter-spacing="3">10</text>
<text x="1544.1" y="1650.2" font-size="40" font-weight="bold" textLength="53.8" lengthAdjust="spacing">pH</text>
<text x="1090.0" y="1300.8" font-size="39" font-weight="bold" textLength="201.5" lengthAdjust="spacing" transform="rotate(-90 1090.0 1300.8)">Time (Min)</text>
<text class="plabel" stroke="#000" stroke-width="1.3" stroke-linejoin="round"><tspan x="1048.27" y="894.56" font-size="54.91" textLength="12.69" lengthAdjust="spacingAndGlyphs">(</tspan><tspan x="1065.72" y="895.50" font-size="55.10" textLength="29.17" lengthAdjust="spacingAndGlyphs">d</tspan><tspan x="1099.55" y="894.56" font-size="54.91" textLength="13.32" lengthAdjust="spacingAndGlyphs">)</tspan></text>
</g>
</svg>
</body>
</html>
